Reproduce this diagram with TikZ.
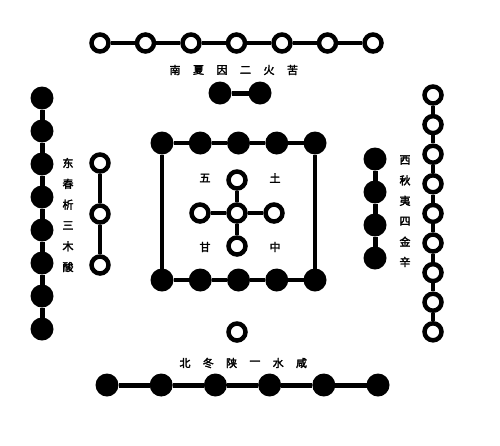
\documentclass[tikz,border=0pt]{standalone}
\usepackage{fontspec}
\newfontfamily\cjk[AutoFakeBold=2.5]{Noto Sans CJK SC}
\begin{document}
\begin{tikzpicture}[x=1pt,y=-1pt,
  blk/.style={circle, fill=black, minimum size=23pt, inner sep=0pt, outer sep=0pt},
  wht/.style={circle, draw=black, line width=4.5pt, fill=white, minimum size=17pt, inner sep=0pt},
  bl/.style={line width=5pt},
  wl/.style={line width=3.5pt},
  sq/.style={line width=3.5pt},
  lab/.style={font=\cjk\bfseries\fontsize{11}{11}\selectfont, inner sep=0pt}]
\useasboundingbox (0,0) rectangle (500,445);
% south: 7 white
\foreach \i in {1,...,7} \node[wht] (t\i) at ({100+45.5*(\i-1)},43) {};
\foreach \i [count=\j from 2] in {1,...,6} \draw[wl] (t\i) -- (t\j);
% south: 2 black
\node[blk] (n1) at (220,93) {};
\node[blk] (n2) at (260,93) {};
\draw[bl] (n1) -- (n2);
% east: 8 black
\foreach \i in {1,...,8} \node[blk] (l\i) at (42,{98+33*(\i-1)}) {};
\foreach \i [count=\j from 2] in {1,...,7} \draw[bl] (l\i) -- (l\j);
% east: 3 white
\foreach \i in {1,...,3} \node[wht] (e\i) at (100,{163+51*(\i-1)}) {};
\foreach \i [count=\j from 2] in {1,...,2} \draw[wl] (e\i) -- (e\j);
% west: 4 black
\foreach \i in {1,...,4} \node[blk] (w\i) at (375,{159+33*(\i-1)}) {};
\foreach \i [count=\j from 2] in {1,...,3} \draw[bl] (w\i) -- (w\j);
% west: 9 white
\foreach \i in {1,...,9} \node[wht] (r\i) at (433,{95+29.6*(\i-1)}) {};
\foreach \i [count=\j from 2] in {1,...,8} \draw[wl] (r\i) -- (r\j);
% centre: 10 black square
\foreach \i in {1,...,5} {
  \node[blk] (a\i) at ({162+38.25*(\i-1)},143) {};
  \node[blk] (b\i) at ({162+38.25*(\i-1)},280) {};
}
\foreach \i [count=\j from 2] in {1,...,4} {
  \draw[sq] (a\i) -- (a\j);
  \draw[sq] (b\i) -- (b\j);
}
\draw[sq] (a1) -- (b1);
\draw[sq] (a5) -- (b5);
% centre: 5 white cross
\node[wht] (c0) at (237,213) {};
\node[wht] (cu) at (237,180) {};
\node[wht] (cd) at (237,246) {};
\node[wht] (cl) at (200,213) {};
\node[wht] (cr) at (274,213) {};
\foreach \k in {cu,cd,cl,cr} \draw[wl] (c0) -- (\k);
% north: 1 white, 6 black
\node[wht] (s0) at (237,332) {};
\foreach \i in {1,...,6} \node[blk] (s\i) at ({107+54.2*(\i-1)},385) {};
\foreach \i [count=\j from 2] in {1,...,5} \draw[bl] (s\i) -- (s\j);
% labels
\foreach \ch [count=\i] in {南,夏,因,二,火,苦}
  \node[lab] (ts\i) at ({175+23.5*(\i-1)},70) {\ch};
\foreach \ch [count=\i] in {北,冬,陕,一,水,咸}
  \node[lab] (bs\i) at ({185+23.3*(\i-1)},363) {\ch};
\foreach \ch [count=\i] in {东,春,析,三,木,酸}
  \node[lab] (ls\i) at (68,{163+20.8*(\i-1)}) {\ch};
\foreach \ch [count=\i] in {西,秋,夷,四,金,辛}
  \node[lab] (rs\i) at (405,{160+20.4*(\i-1)}) {\ch};
\node[lab] (m1) at (205,178) {五};
\node[lab] (m2) at (275,178) {土};
\node[lab] (m3) at (205,247) {甘};
\node[lab] (m4) at (275,247) {中};
\end{tikzpicture}
\end{document}
